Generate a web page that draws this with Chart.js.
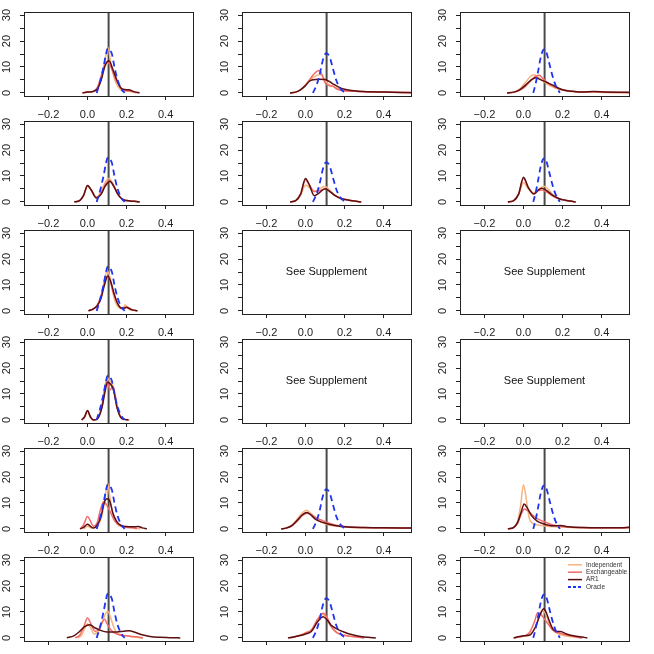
<!DOCTYPE html>
<html>
<head>
<meta charset="utf-8">
<script src="https://cdn.jsdelivr.net/npm/chart.js@4/dist/chart.umd.min.js"></script>
<style>
  body { margin: 0; background: #fff; }
  #grid { position: relative; width: 654px; height: 654px; overflow: hidden; background: #fff; }
  #grid canvas { position: absolute; }
</style>
</head>
<body>
<div id="grid"></div>
<script>
const seriesNames = ['Independent', 'Exchangeable', 'AR1', 'Oracle'];
const seriesColors = ['#f7b47c', '#f26b6b', '#5b0f12', '#1f33f2'];
const xTicks = [-0.2, 0, 0.2, 0.4];
const yTicks = [0, 5, 10, 15, 20, 25, 30];
const trueValue = 0.108;
const supplementText = 'See Supplement';

// panels in row order (r1c1, r1c2, r1c3, r2c1, ...), null = not drawn
const independent = [
  [[-0.02,0],[0,0.2],[0.03,0.5],[0.05,1.5],[0.07,5],[0.09,13],[0.105,17.5],[0.12,11],[0.14,5],[0.16,2],[0.18,0.8],[0.21,0.6],[0.25,0]],
  [[-0.079,0],[-0.05,0.3],[-0.02,1.5],[0.01,3.8],[0.04,6],[0.075,7.1],[0.095,5.5],[0.115,3.5],[0.14,2.5],[0.17,1.5],[0.2,0.9],[0.25,0.6],[0.3,0.4],[0.4,0.2],[0.54,0.1]],
  [[-0.084,0],[-0.05,0.3],[-0.02,1.5],[0.01,4],[0.035,6.3],[0.053,7],[0.075,6],[0.1,4.5],[0.13,3],[0.16,2],[0.2,1],[0.25,0.5],[0.3,0.2],[0.36,0.3],[0.45,0.1],[0.54,0.05]],
  [[-0.068,0],[-0.04,0.5],[-0.02,2.4],[0,6],[0.02,4.3],[0.045,1.8],[0.07,4],[0.09,7.5],[0.11,9],[0.13,7],[0.155,3],[0.175,1.2],[0.2,0.5],[0.24,0.2],[0.267,0]],
  [[-0.079,0],[-0.05,0.5],[-0.025,2.5],[0,6.5],[0.02,5.5],[0.045,4],[0.07,5],[0.1,6],[0.125,4.5],[0.15,2.5],[0.18,1.3],[0.21,0.8],[0.25,0.3],[0.285,0]],
  [[-0.08,0],[-0.05,0.6],[-0.025,3],[0,7.4],[0.025,5],[0.053,3.5],[0.08,5],[0.105,6],[0.125,5],[0.15,2.8],[0.18,1.3],[0.21,0.6],[0.24,0.3],[0.267,0]],
  [[0.01,0],[0.03,0.7],[0.05,2],[0.07,5.5],[0.085,11],[0.1,15.5],[0.115,13],[0.13,7],[0.145,3],[0.165,1],[0.18,0.8],[0.193,2.4],[0.21,0.8],[0.235,0]],
  null,
  null,
  [[-0.03,0],[-0.015,1],[0,3.2],[0.015,1],[0.03,0],[0.045,0.1],[0.06,1.5],[0.075,5.5],[0.09,13],[0.1,16.5],[0.112,15],[0.125,14],[0.14,10],[0.155,4],[0.17,1.2],[0.19,0.3],[0.215,0]],
  null,
  null,
  [[-0.02,0],[0,1],[0.02,0.3],[0.05,1.2],[0.07,4],[0.088,11],[0.103,17.7],[0.115,12],[0.13,6],[0.15,2],[0.17,1],[0.2,0.8],[0.23,0.5],[0.27,0]],
  [[-0.12,0],[-0.1,0.3],[-0.07,1.5],[-0.04,4],[-0.015,6.3],[0.005,7.2],[0.03,5.8],[0.05,4],[0.08,2.6],[0.11,1.7],[0.15,1.1],[0.2,0.7],[0.3,0.4],[0.4,0.3],[0.54,0.2]],
  [[-0.08,0],[-0.05,0.6],[-0.03,3],[-0.015,9],[0,17],[0.015,11],[0.03,4],[0.05,2],[0.08,1.4],[0.12,1],[0.2,0.7],[0.3,0.4],[0.4,0.3],[0.54,0.3]],
  [[-0.05,0],[-0.03,1],[-0.015,3.5],[0,5.5],[0.015,4],[0.035,1.5],[0.06,3],[0.08,7],[0.103,10.4],[0.12,7.5],[0.135,4],[0.15,2],[0.2,0.8],[0.24,0.3],[0.28,0]],
  [[-0.08,0],[-0.05,0.5],[-0.02,1.3],[0,2],[0.03,3],[0.06,6.5],[0.085,9],[0.105,8],[0.13,4.5],[0.16,2],[0.2,1],[0.25,0.4],[0.3,0]],
  [[-0.05,0],[-0.02,0.4],[0,0.6],[0.03,1.2],[0.06,4],[0.085,9],[0.1,10.5],[0.115,9],[0.13,6],[0.15,3],[0.2,1],[0.25,0.4],[0.3,0]]
];

const exchangeable = [
  [[-0.026,0],[0,0.3],[0.03,0.6],[0.05,2],[0.07,6.5],[0.09,11],[0.1,12],[0.12,10],[0.14,6],[0.16,3],[0.18,1.2],[0.21,0.8],[0.24,0.3],[0.26,0]],
  [[-0.079,0],[-0.05,0.3],[-0.02,1.5],[0.01,4],[0.04,7],[0.07,8.6],[0.085,7],[0.1,4],[0.12,2.8],[0.14,2.6],[0.16,1.5],[0.2,0.8],[0.25,0.6],[0.3,0.4],[0.4,0.3],[0.54,0.1]],
  [[-0.084,0],[-0.05,0.2],[-0.02,1],[0.01,2.5],[0.04,5],[0.065,6.5],[0.08,6.8],[0.1,5.5],[0.13,3.5],[0.16,2.2],[0.2,1.2],[0.25,0.6],[0.3,0.3],[0.36,0.4],[0.45,0.2],[0.54,0.1]],
  [[-0.068,0],[-0.04,0.5],[-0.02,2.5],[0,6.2],[0.02,4.5],[0.045,1.7],[0.07,3.5],[0.09,6.5],[0.11,8.2],[0.13,6.5],[0.155,3],[0.175,1.2],[0.2,0.5],[0.24,0.2],[0.267,0]],
  [[-0.079,0],[-0.05,0.5],[-0.025,3],[0,8.5],[0.02,6.5],[0.045,4],[0.07,4.3],[0.1,5],[0.125,4],[0.15,2.5],[0.18,1.5],[0.21,0.9],[0.25,0.3],[0.285,0]],
  [[-0.08,0],[-0.05,0.5],[-0.025,3],[0,9],[0.025,5.5],[0.053,3.2],[0.075,4.3],[0.092,4.6],[0.115,4],[0.15,2.2],[0.18,1.2],[0.21,0.6],[0.24,0.3],[0.267,0]],
  [[0.005,0],[0.03,0.8],[0.05,2.2],[0.07,6],[0.085,10.5],[0.1,13.5],[0.115,12],[0.13,7.5],[0.15,3.5],[0.165,1.5],[0.18,1],[0.2,1.6],[0.225,0.6],[0.256,0]],
  null,
  null,
  [[-0.03,0],[-0.015,1.2],[0,3.5],[0.015,1.2],[0.03,0],[0.045,0.1],[0.06,1.8],[0.075,6],[0.09,12.5],[0.1,15],[0.115,11.5],[0.13,13],[0.14,10],[0.155,4],[0.17,1],[0.19,0.2],[0.21,0]],
  null,
  null,
  [[-0.038,0],[-0.02,1.5],[0,4.8],[0.015,3],[0.03,1],[0.05,2.5],[0.065,7],[0.082,10.5],[0.1,9],[0.12,6],[0.14,3],[0.16,1.5],[0.2,0.5],[0.23,0.4],[0.253,0]],
  [[-0.12,0],[-0.1,0.3],[-0.07,1.2],[-0.04,3.2],[-0.015,5.2],[0.01,6],[0.035,5.3],[0.06,4],[0.085,3.3],[0.11,2.5],[0.15,1.5],[0.2,0.9],[0.3,0.5],[0.4,0.4],[0.54,0.3]],
  [[-0.08,0],[-0.05,0.5],[-0.03,2.2],[-0.01,6],[0.005,7.7],[0.025,6.8],[0.05,5],[0.08,3.6],[0.11,2.6],[0.15,1.5],[0.2,0.9],[0.3,0.5],[0.4,0.4],[0.54,0.5]],
  [[-0.063,0],[-0.04,1],[-0.02,4],[0,7.7],[0.02,5],[0.04,2.5],[0.06,3.5],[0.075,6],[0.087,7.2],[0.1,5.5],[0.12,3],[0.15,1.5],[0.2,0.8],[0.25,0.4],[0.284,0]],
  [[-0.08,0],[-0.05,0.5],[-0.02,1.2],[0,1.8],[0.03,3],[0.06,7],[0.09,9.5],[0.11,8],[0.13,4.5],[0.16,2],[0.2,1],[0.25,0.4],[0.3,0]],
  [[-0.05,0],[-0.02,0.4],[0,0.7],[0.03,2],[0.055,6],[0.073,9.7],[0.09,9],[0.1,8],[0.13,5],[0.15,3],[0.2,1.5],[0.25,0.6],[0.3,0]]
];

const ar1 = [
  [[-0.026,0],[0,0.3],[0.03,0.6],[0.05,1.5],[0.07,5],[0.09,10.5],[0.11,12.4],[0.13,9],[0.15,5],[0.17,2],[0.19,1.3],[0.21,1.2],[0.24,0.4],[0.267,0]],
  [[-0.079,0],[-0.05,0.3],[-0.03,1],[0,2.8],[0.02,4.5],[0.04,5.1],[0.07,5.3],[0.1,5.2],[0.12,4.5],[0.14,3.5],[0.17,2.2],[0.2,1.4],[0.25,0.8],[0.3,0.5],[0.4,0.3],[0.54,0.15]],
  [[-0.084,0],[-0.05,0.3],[-0.02,1.2],[0.01,3],[0.04,5],[0.062,5.8],[0.09,5],[0.12,4],[0.15,3],[0.18,1.8],[0.21,1],[0.25,0.6],[0.3,0.3],[0.36,0.5],[0.42,0.3],[0.54,0.2]],
  [[-0.068,0],[-0.04,0.5],[-0.02,2.5],[0,6.3],[0.02,4.5],[0.045,1.5],[0.07,3],[0.09,6],[0.115,8],[0.135,6],[0.155,3],[0.175,1.2],[0.2,0.5],[0.24,0.2],[0.267,0]],
  [[-0.079,0],[-0.05,0.5],[-0.025,3],[0,9],[0.02,6.5],[0.045,2.4],[0.07,3.5],[0.1,5.1],[0.125,4],[0.15,2.5],[0.18,1.3],[0.21,0.8],[0.25,0.3],[0.285,0]],
  [[-0.08,0],[-0.05,0.5],[-0.025,3],[0,9.5],[0.025,5.5],[0.053,3],[0.075,4.5],[0.092,5.3],[0.115,4.5],[0.15,2.5],[0.18,1.3],[0.21,0.7],[0.24,0.3],[0.267,0]],
  [[0.005,0],[0.03,0.8],[0.05,2],[0.07,5],[0.085,9.5],[0.104,13.5],[0.12,11],[0.135,7],[0.15,3.5],[0.165,1.5],[0.18,1],[0.2,1.3],[0.225,0.5],[0.256,0]],
  null,
  null,
  [[-0.03,0],[-0.015,1.2],[0,3.6],[0.015,1.2],[0.03,0],[0.045,0.1],[0.06,1.5],[0.075,5],[0.09,11],[0.103,14.5],[0.115,14],[0.125,13],[0.135,11],[0.15,5],[0.17,1],[0.19,0.2],[0.21,0]],
  null,
  null,
  [[-0.038,0],[-0.02,0.6],[0,1.8],[0.015,1],[0.03,0.3],[0.05,1.5],[0.07,5],[0.085,10],[0.099,11.6],[0.115,10.5],[0.13,6],[0.15,2.8],[0.17,1.4],[0.2,0.9],[0.23,0.8],[0.26,0.9],[0.28,0.4],[0.304,0]],
  [[-0.125,0],[-0.1,0.3],[-0.07,1.3],[-0.04,3.5],[-0.015,5.5],[0.007,6.3],[0.03,5.2],[0.05,3.8],[0.08,2.7],[0.11,2],[0.15,1.3],[0.2,0.8],[0.3,0.5],[0.4,0.4],[0.54,0.3]],
  [[-0.08,0],[-0.05,0.6],[-0.03,2.5],[-0.01,7],[0.003,9.6],[0.02,8],[0.04,5.2],[0.07,3],[0.1,2],[0.15,1.2],[0.19,1.3],[0.23,0.8],[0.3,0.5],[0.4,0.4],[0.5,0.4],[0.54,0.6]],
  [[-0.106,0],[-0.07,0.8],[-0.04,2.5],[-0.015,4.3],[0.01,5.1],[0.04,3.8],[0.07,2.8],[0.1,2.3],[0.15,2.3],[0.185,2.6],[0.21,2.8],[0.25,2],[0.28,1.2],[0.32,0.5],[0.37,0.2],[0.42,0.1],[0.475,0]],
  [[-0.09,0],[-0.05,0.5],[-0.02,1],[0,1.5],[0.03,2.5],[0.06,6],[0.09,8.2],[0.11,7],[0.13,5],[0.16,3.5],[0.2,2.2],[0.24,1.2],[0.28,0.5],[0.32,0.2],[0.36,0]],
  [[-0.05,0],[-0.02,0.5],[0,0.8],[0.03,1],[0.06,4],[0.085,9],[0.104,11.2],[0.118,9.5],[0.13,7],[0.15,3.5],[0.17,2.5],[0.19,2.5],[0.22,1.5],[0.27,0.6],[0.3,0.3],[0.327,0]]
];

// oracle density is the same down each column
const oracleByColumn = [
  [[0.047,0],[0.065,4.5],[0.082,10],[0.095,15],[0.104,17.2],[0.115,16.5],[0.125,15],[0.138,10],[0.154,5],[0.176,1.2],[0.19,0]],
  [[0.038,0],[0.055,2.7],[0.072,6.9],[0.089,12.7],[0.106,15.3],[0.123,14],[0.14,9.5],[0.157,5],[0.174,2.2],[0.195,0.5],[0.217,0]],
  [[0.05,0],[0.062,3.5],[0.074,8],[0.087,13.3],[0.1,16.5],[0.109,16.9],[0.118,15.5],[0.13,12],[0.147,6.9],[0.164,3],[0.186,0]]
];

Chart.defaults.font.family = "'Liberation Sans', Arial, sans-serif";
Chart.defaults.color = '#222';

const panelW = 218, panelH = 109, canvasH = 132;

function fmtX(v) {
  return (v < 0 ? '\u2212' : '') + Math.abs(v).toFixed(1);
}

function toPoints(arr) {
  return arr.map(p => ({ x: p[0], y: p[1] }));
}

const boxPlugin = {
  id: 'box',
  afterDatasetsDraw(chart) {
    const a = chart.chartArea;
    const ctx = chart.ctx;
    ctx.save();
    ctx.strokeStyle = '#222';
    ctx.lineWidth = 1;
    ctx.strokeRect(Math.round(a.left) + 0.5, Math.round(a.top) + 0.5, Math.round(a.right - a.left), Math.round(a.bottom - a.top));
    ctx.restore();
  }
};

const supplementPlugin = {
  id: 'supplement',
  afterDraw(chart) {
    if (!chart.options.plugins.supplement.show) return;
    const a = chart.chartArea;
    const ctx = chart.ctx;
    ctx.save();
    ctx.fillStyle = '#111';
    ctx.font = "11px 'Liberation Sans', Arial, sans-serif";
    ctx.textAlign = 'center';
    ctx.textBaseline = 'middle';
    ctx.fillText(supplementText, (a.left + a.right) / 2, (a.top + a.bottom) / 2);
    ctx.restore();
  }
};

const insetLegend = {
  id: 'insetLegend',
  afterDraw(chart) {
    if (!chart.options.plugins.insetLegend.show) return;
    const a = chart.chartArea;
    const ctx = chart.ctx;
    const x0 = a.right - 61, y0 = a.top + 7.8, step = 7.4;
    ctx.save();
    ctx.font = "6.5px 'Liberation Sans', Arial, sans-serif";
    ctx.textBaseline = 'middle';
    seriesNames.forEach((name, k) => {
      const y = y0 + k * step;
      ctx.strokeStyle = seriesColors[k];
      ctx.lineWidth = k === 3 ? 1.8 : 1.5;
      ctx.setLineDash(k === 3 ? [3, 2] : []);
      ctx.beginPath();
      ctx.moveTo(x0, y);
      ctx.lineTo(x0 + 14, y);
      ctx.stroke();
      ctx.setLineDash([]);
      ctx.fillStyle = '#333';
      ctx.fillText(name, x0 + 18, y);
    });
    ctx.restore();
  }
};

const grid = document.getElementById('grid');

for (let i = 0; i < 18; i++) {
  const row = Math.floor(i / 3);
  const col = i % 3;
  const canvas = document.createElement('canvas');
  canvas.width = panelW;
  canvas.height = canvasH;
  canvas.style.left = (col * panelW) + 'px';
  canvas.style.top = (row * panelH) + 'px';
  grid.appendChild(canvas);

  const hasData = independent[i] !== null;
  const datasets = [];
  if (hasData) {
    const curves = [independent[i], exchangeable[i], ar1[i], oracleByColumn[col]];
    curves.forEach((pts, k) => {
      datasets.push({
        label: seriesNames[k],
        data: toPoints(pts),
        borderColor: seriesColors[k],
        borderWidth: k === 3 ? 1.8 : 1.5,
        borderDash: k === 3 ? [6, 4] : [],
        pointRadius: 0,
        cubicInterpolationMode: 'monotone',
        fill: false,
        order: 4 - k
      });
    });
    datasets.push({
      label: 'true value',
      data: [{ x: trueValue, y: -5 }, { x: trueValue, y: 40 }],
      borderColor: '#4a4a4a',
      borderWidth: 2,
      pointRadius: 0,
      fill: false,
      order: 5
    });
  }

  new Chart(canvas, {
    type: 'line',
    data: { datasets },
    options: {
      responsive: false,
      animation: false,
      devicePixelRatio: 1,
      layout: { padding: { top: 12, right: 25, left: 0, bottom: 0 } },
      plugins: {
        legend: { display: false },
        tooltip: { enabled: false },
        supplement: { show: !hasData },
        insetLegend: { show: i === 17 }
      },
      scales: {
        x: {
          type: 'linear',
          min: -0.325,
          max: 0.54,
          afterBuildTicks: s => { s.ticks = xTicks.map(v => ({ value: v })); },
          afterFit: s => { s.height = canvasH - 96; s.paddingLeft = 0; s.paddingRight = 0; },
          border: { display: false },
          grid: { drawOnChartArea: false, drawTicks: true, tickLength: 4, color: '#222' },
          ticks: {
            autoSkip: false,
            maxRotation: 0,
            padding: 8,
            color: '#222',
            font: { size: 11 },
            callback: v => fmtX(v)
          }
        },
        y: {
          type: 'linear',
          min: -1.2,
          max: 31.2,
          afterBuildTicks: s => { s.ticks = yTicks.map(v => ({ value: v })); },
          afterFit: s => { s.width = 24; s.paddingTop = 0; s.paddingBottom = 0; },
          border: { display: false },
          grid: { drawOnChartArea: false, drawTicks: true, tickLength: 4, color: '#222' },
          ticks: {
            autoSkip: false,
            minRotation: 90,
            maxRotation: 90,
            crossAlign: 'center',
            padding: 7,
            color: '#222',
            font: { size: 11 },
            callback: v => (v % 10 === 0 ? String(v) : '')
          }
        }
      }
    },
    plugins: [boxPlugin, supplementPlugin, insetLegend]
  });
}
</script>
</body>
</html>
